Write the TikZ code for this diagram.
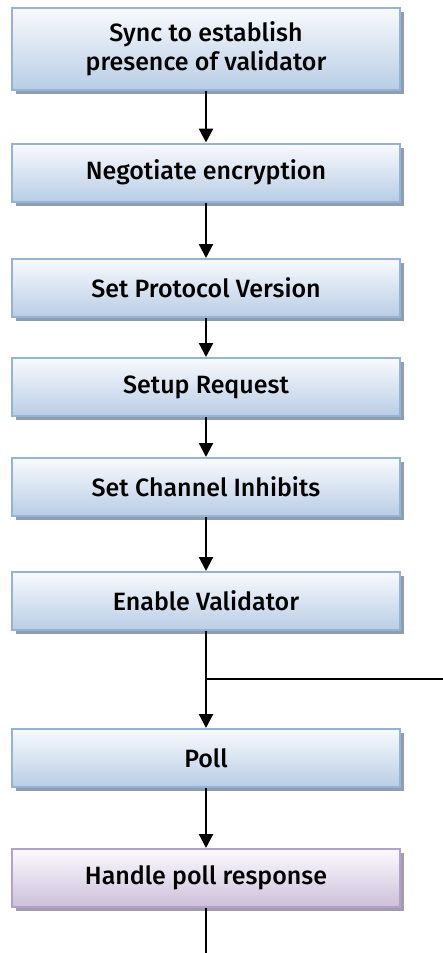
\documentclass[tikz,border=0pt]{standalone}
\usepackage{fontspec}
\setmainfont{Fira Sans}[UprightFont=* Medium]
\usetikzlibrary{arrows.meta,shadows}

\definecolor{blueedge}{HTML}{95B3D7}
\definecolor{bluetop}{HTML}{F8FAFD}
\definecolor{bluebot}{HTML}{B9CDE5}
\definecolor{blueshade}{HTML}{8F9DB1}
\definecolor{lilacedge}{HTML}{B3A2C7}
\definecolor{lilactop}{HTML}{FBFAFD}
\definecolor{lilacbot}{HTML}{CCC0DA}
\definecolor{lilacshade}{HTML}{A39DAB}

\tikzset{
  stepbox/.style={
    draw=blueedge, line width=2pt,
    top color=bluetop, bottom color=bluebot,
    minimum width=388pt, minimum height=#1, inner sep=0pt,
    align=center, font=\fontsize{25}{29}\selectfont,
    drop shadow={shadow xshift=3.5pt, shadow yshift=-4pt,
                 fill=blueshade, opacity=1}
  },
  stepbox/.default=58pt,
  pollbox/.style={
    stepbox,
    draw=lilacedge, top color=lilactop, bottom color=lilacbot,
    drop shadow={shadow xshift=3.5pt, shadow yshift=-4pt,
                 fill=lilacshade, opacity=1}
  },
  flow/.style={line width=2.2pt, -{Triangle[width=14pt,length=14pt]}},
  plain/.style={line width=2.2pt}
}

\begin{document}
\begin{tikzpicture}[x=1pt, y=-1pt]
  \useasboundingbox (0,0) rectangle (443,953);

  \node[stepbox=82pt] (sync) at (206,49)
    {Sync to establish\\presence of validator};
  \node[stepbox] (neg)   at (206,172.5) {Negotiate encryption};
  \node[stepbox] (proto) at (206,288)   {Set Protocol Version};
  \node[stepbox] (setup) at (206,387)   {Setup Request};
  \node[stepbox] (inhib) at (206,487)   {Set Channel Inhibits};
  \node[stepbox] (enab)  at (206,601)   {Enable Validator};
  \node[stepbox] (poll)  at (206,758)   {Poll};
  \node[pollbox] (handle) at (206,878)  {Handle poll response};

  \coordinate (loopjoin) at (206,679);
  \coordinate (loopin)   at (443,679);
  \coordinate (tail)     at (206,953);

  \draw[flow] (sync.south)  -- (neg.north);
  \draw[flow] (neg.south)   -- (proto.north);
  \draw[flow] (proto.south) -- (setup.north);
  \draw[flow] (setup.south) -- (inhib.north);
  \draw[flow] (inhib.south) -- (enab.north);
  \draw[flow] (enab.south)  -- (poll.north);
  \draw[flow] (poll.south)  -- (handle.north);
  \draw[line width=1.4pt] (loopjoin) -- (loopin);
  \draw[plain] (handle.south) -- (tail);
\end{tikzpicture}
\end{document}
